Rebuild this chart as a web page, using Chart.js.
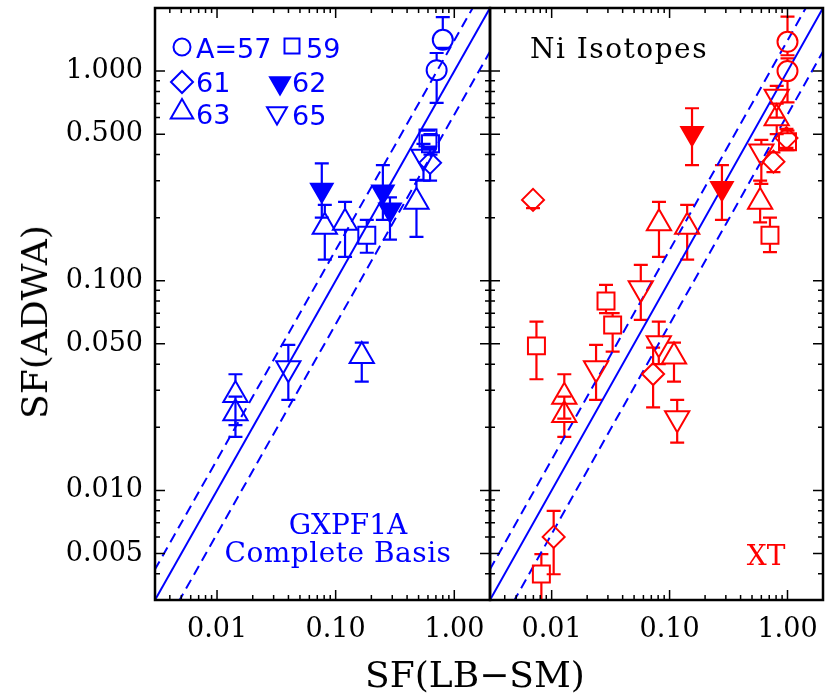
<!DOCTYPE html>
<html>
<head>
<meta charset="utf-8">
<script src="https://cdn.jsdelivr.net/npm/chart.js@4.4.1/dist/chart.umd.min.js"></script>
<style>
  html, body { margin: 0; padding: 0; background: #fff; }
  #wrap { position: relative; width: 825px; height: 700px; overflow: hidden; }
  #wrap canvas { position: absolute; left: 0; top: 0; }
  .lbl { position: absolute; white-space: nowrap; font-family: "DejaVu Serif", serif; line-height: 1; transform: translate(-50%, -50%); }
  .leg { position: absolute; white-space: nowrap; font-family: "DejaVu Sans", sans-serif; font-size: 27px; line-height: 1; color: #0000ff; transform: translateY(-50%); }
</style>
</head>
<body>
<div id="wrap">
  <canvas id="cLeft" width="825" height="700" style="width:825px;height:700px"></canvas>
  <canvas id="cRight" width="825" height="700" style="width:825px;height:700px"></canvas>

  <div class="lbl" style="left:35px;top:322px;font-size:36px;transform:translate(-50%,-50%) rotate(-90deg)">SF(ADWA)</div>
  <div class="lbl" style="left:475px;top:675px;font-size:36px">SF(LB−SM)</div>
  <div class="lbl" style="left:619px;top:49px;font-size:28px;letter-spacing:1.5px">Ni Isotopes</div>
  <div class="lbl" style="left:348px;top:525px;font-size:28px;color:#0000ff">GXPF1A</div>
  <div class="lbl" style="left:338px;top:553px;font-size:28px;letter-spacing:0.5px;color:#0000ff">Complete Basis</div>
  <div class="lbl" style="left:766px;top:556px;font-size:28px;color:#ff0000">XT</div>

  <div class="leg" style="left:196px;top:48px">A=57</div>
  <div class="leg" style="left:306px;top:48px">59</div>
  <div class="leg" style="left:196px;top:82px">61</div>
  <div class="leg" style="left:292px;top:82px">62</div>
  <div class="leg" style="left:196px;top:114px">63</div>
  <div class="leg" style="left:292px;top:115px">65</div>
</div>

<script>
const blue = "#0000ff";
const red = "#ff0000";

const axisMin = 0.003;
const axisMax = 2;
const xTickVals = [0.01, 0.1, 1];
const xTickText = ["0.01", "0.10", "1.00"];
const yTickVals = [0.005, 0.01, 0.05, 0.1, 0.5, 1];
const yTickText = ["0.005", "0.010", "0.050", "0.100", "0.500", "1.000"];

// reference band around SF(ADWA) = SF(LB-SM)
const bandUpper = 1.4;
const bandLower = 0.62;

// rows: [SF(LB-SM), SF(ADWA), err low, err high]
// GXPF1A (left panel)
const gx57 = [[0.80, 1.41, 1.29, 1.81], [0.71, 1.01, 0.705, 1.22]];
const gx59 = [[0.60, 0.48, 0.43, 0.52], [0.63, 0.45, 0.40, 0.50], [0.183, 0.165, 0.136, 0.195]];
const gx61 = [[0.625, 0.365, 0.30, 0.43]];
const gx62 = [[0.0764, 0.271, 0.20, 0.363], [0.25, 0.266, 0.195, 0.356], [0.287, 0.218, 0.157, 0.25]];
const gx63 = [[0.48, 0.238, 0.162, 0.303], [0.081, 0.181, 0.126, 0.23], [0.12, 0.189, 0.13, 0.238],
              [0.0143, 0.0285, 0.0205, 0.0358], [0.0143, 0.0233, 0.018, 0.028], [0.166, 0.0438, 0.033, 0.0507]];
const gx65 = [[0.55, 0.39, 0.30, 0.45], [0.0399, 0.0382, 0.027, 0.0494]];

// XT (right panel)
const xt57 = [[1.0, 1.38, 1.19, 1.82], [1.0, 1.0, 0.71, 1.15]];
const xt59 = [[1.0, 0.46, 0.42, 0.52], [0.71, 0.165, 0.137, 0.20], [0.0289, 0.080, 0.070, 0.0955],
              [0.0329, 0.0615, 0.0459, 0.070], [0.00743, 0.0489, 0.0339, 0.0638], [0.00818, 0.00399, 0.002, 0.00497]];
const xt61 = [[0.00695, 0.243, 0.222, 0.243], [0.98, 0.479, 0.43, 0.53], [0.76, 0.37, 0.33, 0.41],
              [0.0725, 0.0359, 0.0249, 0.048], [0.0104, 0.0060, 0.00398, 0.00798]];
const xt62 = [[0.155, 0.506, 0.356, 0.665], [0.278, 0.276, 0.195, 0.356]];
const xt63 = [[0.586, 0.238, 0.19, 0.30], [0.81, 0.596, 0.50, 0.70], [0.0813, 0.188, 0.13, 0.238],
              [0.141, 0.181, 0.126, 0.23], [0.0128, 0.028, 0.022, 0.0358], [0.0128, 0.0229, 0.018, 0.028],
              [0.109, 0.0435, 0.033, 0.0507]];
const xt65 = [[0.81, 0.755, 0.60, 0.85], [0.60, 0.413, 0.29, 0.47], [0.057, 0.092, 0.065, 0.119],
              [0.0238, 0.0382, 0.027, 0.0494], [0.081, 0.0503, 0.040, 0.0638], [0.116, 0.0221, 0.0169, 0.027]];

// marker look per mass number
const markStyles = {
  57: { pointStyle: "circle", radius: 10, rotation: 0, filled: false },
  59: { pointStyle: "rect", radius: 12, rotation: 0, filled: false },
  61: { pointStyle: "rectRot", radius: 11, rotation: 0, filled: false },
  62: { pointStyle: "triangle", radius: 12.5, rotation: 180, filled: true },
  63: { pointStyle: "triangle", radius: 14, rotation: 0, filled: false },
  65: { pointStyle: "triangle", radius: 14, rotation: 180, filled: false },
};
// legend marker spots (left panel): [key, px, py, radius]
const legendSpots = [[57, 182, 47, 8.5], [59, 292, 46, 10.6], [61, 182, 82, 11],
                     [62, 280, 83, 11.5], [63, 182, 112, 13], [65, 277, 113, 11.5]];

function markerExtent(st, r) {
  if (st.pointStyle === "rect") return [0.707 * r, 0.707 * r];
  if (st.pointStyle === "triangle") return st.rotation ? [0.5 * r, r] : [r, 0.5 * r];
  return [r, r];
}

function refLines() {
  const ends = [axisMin / 10, axisMax * 10];
  return [1, bandUpper, bandLower].map((f, i) => ({
    type: "line",
    data: ends.map((v) => ({ x: v, y: v * f })),
    borderColor: blue,
    borderWidth: 2,
    borderDash: i ? [10, 6] : [],
    pointRadius: 0,
    fill: false,
    order: 10,
  }));
}

function pointSets(color, groups) {
  return groups.map(([rows, key]) => {
    const st = markStyles[key];
    return {
      rows,
      mark: key,
      data: rows.map((r) => ({ x: r[0], y: r[1] })),
      pointStyle: st.pointStyle,
      pointRotation: st.rotation,
      pointRadius: st.radius,
      pointBorderWidth: 2,
      borderColor: color,
      pointBorderColor: color,
      pointBackgroundColor: st.filled ? color : "rgba(0,0,0,0)",
      showLine: false,
      order: 1,
    };
  });
}

function logSteps(lo, hi) {
  const out = [];
  for (let k = -4; k <= 1; k++) {
    for (let m = 1; m <= 9; m++) {
      const v = m * Math.pow(10, k);
      if (v >= lo * 0.9999 && v <= hi * 1.0001) out.push(v);
    }
  }
  return out;
}
const isIn = (v, list) => list.some((t) => Math.abs(v / t - 1) < 1e-6);

const errorBars = {
  id: "errorBars",
  beforeDatasetsDraw(chart) {
    const { ctx, chartArea: a, scales: { x, y } } = chart;
    ctx.save();
    ctx.beginPath();
    ctx.rect(a.left, a.top, a.right - a.left, a.bottom - a.top);
    ctx.clip();
    chart.data.datasets.forEach((ds) => {
      if (!ds.rows) return;
      const st = markStyles[ds.mark];
      const [up, dn] = markerExtent(st, st.radius);
      ctx.strokeStyle = ds.borderColor;
      ctx.lineWidth = 2.2;
      ds.rows.forEach((r) => {
        const px = x.getPixelForValue(r[0]);
        const py = y.getPixelForValue(r[1]);
        const lo = y.getPixelForValue(r[2]);
        const hi = y.getPixelForValue(r[3]);
        ctx.beginPath();
        if (r[3] > r[1]) {
          if (hi < py - up) { ctx.moveTo(px, py - up); ctx.lineTo(px, hi); }
          ctx.moveTo(px - 7, hi); ctx.lineTo(px + 7, hi);
        }
        if (r[2] < r[1]) {
          if (lo > py + dn) { ctx.moveTo(px, py + dn); ctx.lineTo(px, lo); }
          ctx.moveTo(px - 7, lo); ctx.lineTo(px + 7, lo);
        }
        ctx.stroke();
      });
    });
    ctx.restore();
  },
};

const frameTicks = {
  id: "frameTicks",
  afterDraw(chart) {
    const { ctx, chartArea: a, scales: { x, y } } = chart;
    ctx.save();
    ctx.strokeStyle = "#000";
    ctx.lineWidth = 1.5;
    ctx.beginPath();
    logSteps(axisMin, axisMax).forEach((v) => {
      const lx = isIn(v, xTickVals) ? 10 : 5;
      const px = x.getPixelForValue(v);
      ctx.moveTo(px, a.bottom); ctx.lineTo(px, a.bottom - lx);
      ctx.moveTo(px, a.top); ctx.lineTo(px, a.top + lx);
      const ly = isIn(v, yTickVals) ? 10 : 5;
      const py = y.getPixelForValue(v);
      ctx.moveTo(a.left, py); ctx.lineTo(a.left + ly, py);
      ctx.moveTo(a.right, py); ctx.lineTo(a.right - ly, py);
    });
    ctx.stroke();
    ctx.lineWidth = 2.5;
    ctx.strokeRect(a.left, a.top, a.right - a.left, a.bottom - a.top);
    ctx.restore();
  },
};

const legendMarks = {
  id: "legendMarks",
  afterDraw(chart) {
    const ctx = chart.ctx;
    ctx.save();
    ctx.strokeStyle = blue;
    legendSpots.forEach(([key, px, py, r]) => {
      const st = markStyles[key];
      ctx.fillStyle = st.filled ? blue : "rgba(0,0,0,0)";
      ctx.lineWidth = 2;
      Chart.helpers.drawPoint(ctx, { pointStyle: st.pointStyle, rotation: st.rotation, radius: r, borderWidth: 2 }, px, py);
    });
    ctx.restore();
  },
};

function xScale() {
  return {
    type: "logarithmic",
    min: axisMin,
    max: axisMax,
    bounds: "data",
    grid: { display: false, drawTicks: false },
    border: { display: false },
    afterBuildTicks: (s) => { s.ticks = xTickVals.map((v) => ({ value: v })); },
    afterFit: (s) => { s.height = 100; s.paddingLeft = 0; s.paddingRight = 0; },
    ticks: {
      padding: 14, color: "#000", autoSkip: false, maxRotation: 0,
      font: { family: "DejaVu Serif", size: 27 },
      callback: (v, i) => xTickText[i],
    },
  };
}

function yScale(show) {
  return {
    type: "logarithmic",
    display: show,
    min: axisMin,
    max: axisMax,
    bounds: "data",
    grid: { display: false, drawTicks: false },
    border: { display: false },
    afterBuildTicks: (s) => { s.ticks = yTickVals.map((v) => ({ value: v })); },
    afterFit: (s) => { s.width = show ? 155 : 0; s.paddingTop = 0; s.paddingBottom = 0; },
    ticks: {
      padding: 12, color: "#000", autoSkip: false,
      font: { family: "DejaVu Serif", size: 27 },
      callback: (v, i) => yTickText[i],
    },
  };
}

function panel(id, padding, showY, color, groups, extra) {
  new Chart(document.getElementById(id), {
    type: "scatter",
    data: { datasets: [...refLines(), ...pointSets(color, groups)] },
    options: {
      responsive: false,
      animation: false,
      layout: { padding, autoPadding: false },
      plugins: { legend: { display: false }, tooltip: { enabled: false } },
      scales: { x: xScale(), y: yScale(showY) },
    },
    plugins: [errorBars, frameTicks, ...extra],
  });
}

panel("cLeft", { left: 0, right: 335, top: 8, bottom: 0 }, true, blue,
  [[gx57, 57], [gx59, 59], [gx61, 61], [gx62, 62], [gx63, 63], [gx65, 65]], [legendMarks]);
panel("cRight", { left: 490, right: 2, top: 8, bottom: 0 }, false, red,
  [[xt57, 57], [xt59, 59], [xt61, 61], [xt62, 62], [xt63, 63], [xt65, 65]], []);
</script>
</body>
</html>
